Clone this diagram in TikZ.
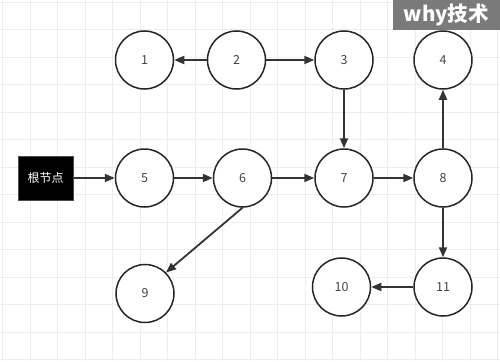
\documentclass[tikz,border=0pt]{standalone}
\usepackage{fontspec}
\setmainfont{Noto Sans CJK SC}
\newfontfamily\cjk{Noto Sans CJK SC}
\usetikzlibrary{arrows.meta}
\definecolor{gridc}{HTML}{EDEDED}
\definecolor{wmark}{HTML}{7A7A7A}
\definecolor{txtc}{HTML}{444444}
\tikzset{
  x=1pt, y=-1pt,
  circnode/.style={circle, draw=black!85, line width=1.5pt, minimum size=58pt, inner sep=0pt, fill=white, font=\cjk\fontsize{12.5}{12.5}\selectfont, text=txtc},
  rootnode/.style={rectangle, draw=black!70, line width=1pt, fill=black, minimum width=55pt, minimum height=44pt, inner sep=0pt, font=\cjk\fontsize{12}{12}\selectfont, text=white},
  edge/.style={draw=black!80, line width=1.8pt, -{Triangle[length=10pt,width=8pt]}},
}
\begin{document}
\begin{tikzpicture}
\useasboundingbox (0,0) rectangle (500,361);
\fill[white] (0,0) rectangle (500,361);
\foreach \i in {0,...,18} {
  \draw[gridc, line width=0.8pt] (2.5+27.5*\i,0) -- (2.5+27.5*\i,361);
}
\foreach \j in {0,...,13} {
  \draw[gridc, line width=0.8pt] (0,2+27.5*\j) -- (500,2+27.5*\j);
}
\node[rootnode] (r) at (45.5,178) {根节点};
\node[circnode] (n1) at (144.5,60) {1};
\node[circnode] (n2) at (236.5,60) {2};
\node[circnode] (n3) at (344,60) {3};
\node[circnode] (n4) at (443,60) {4};
\node[circnode] (n5) at (144.5,178) {5};
\node[circnode] (n6) at (242.5,178) {6};
\node[circnode] (n7) at (344,178) {7};
\node[circnode] (n8) at (443,178) {8};
\node[circnode] (n9) at (145,293.5) {9};
\node[circnode] (n10) at (341.5,287) {10};
\node[circnode] (n11) at (443,287) {11};
\draw[edge] (n2) -- (n1);
\draw[edge] (n2) -- (n3);
\draw[edge] (n3) -- (n7);
\draw[edge] (r) -- (n5);
\draw[edge] (n5) -- (n6);
\draw[edge] (n6) -- (n7);
\draw[edge] (n7) -- (n8);
\draw[edge] (n8) -- (n4);
\draw[edge] (n8) -- (n11);
\draw[edge] (n11) -- (n10);
\draw[edge] (n6.south) -- (n9.north east);
\node[fill=wmark, minimum width=107pt, minimum height=29.5pt, inner sep=0pt, anchor=north east, text=white, font=\cjk\bfseries\fontsize{20.5}{20.5}\selectfont] (wm) at (500,0) {why技术};
\end{tikzpicture}
\end{document}
